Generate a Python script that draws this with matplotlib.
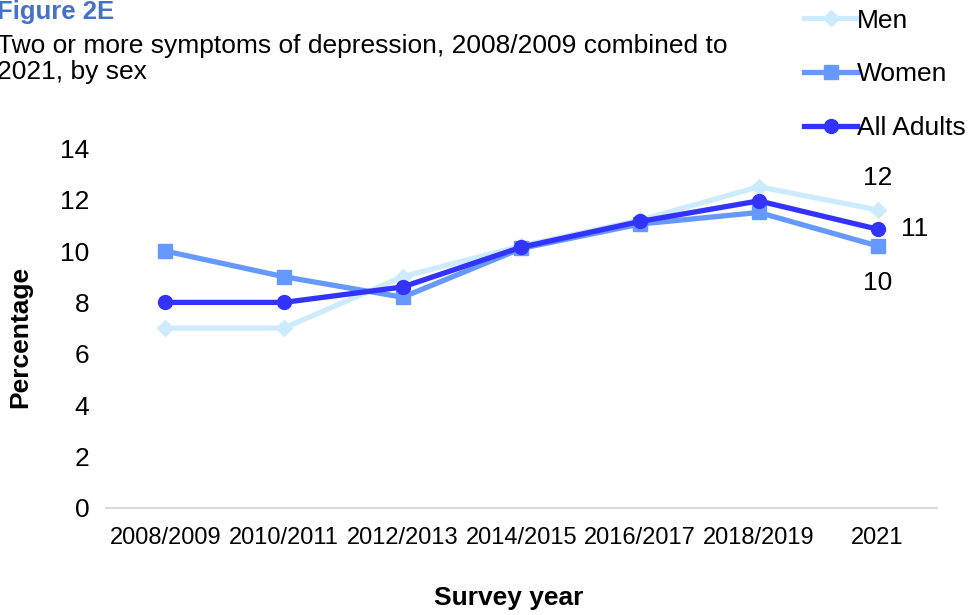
import matplotlib.pyplot as plt

plt.rcParams["font.family"] = ["Liberation Sans", "DejaVu Sans"]

years = ["2008/2009", "2010/2011", "2012/2013", "2014/2015",
         "2016/2017", "2018/2019", "2021"]
men = [7.0, 7.0, 9.0, 10.2, 11.2, 12.5, 11.6]
women = [10.0, 9.0, 8.2, 10.1, 11.05, 11.5, 10.2]
all_adults = [8.0, 8.0, 8.6, 10.15, 11.15, 11.95, 10.85]

fig = plt.figure(figsize=(9.8, 6.15), dpi=100)
ax = fig.add_axes([0.108, 0.174, 0.848, 0.585])

x = range(len(years))
ax.plot(x, men, color="#CCEBFF", lw=3.8, marker="D", ms=8, label="Men")
ax.plot(x, women, color="#6699FF", lw=3.8, marker="s", ms=10, label="Women")
ax.plot(x, all_adults, color="#3333FF", lw=3.8, marker="o", ms=10,
        label="All Adults")

# rounded values at the last survey year
ax.annotate(f"{men[-1]:.0f}", (6, men[-1]), xytext=(0, 14),
            textcoords="offset points", ha="center", va="bottom", fontsize=19)
ax.annotate(f"{all_adults[-1]:.0f}", (6, all_adults[-1]), xytext=(17, 0),
            textcoords="offset points", ha="left", va="center", fontsize=19)
ax.annotate(f"{women[-1]:.0f}", (6, women[-1]), xytext=(0, -18),
            textcoords="offset points", ha="center", va="top", fontsize=19)

ax.set_xlim(-0.5, len(years) - 0.5)
ax.set_ylim(0, 14)
ax.set_yticks(range(0, 15, 2))
ax.set_xticks(list(x))
ax.set_xticklabels(years, fontsize=17)
ax.tick_params(axis="y", labelsize=19, length=0, pad=12)
ax.tick_params(axis="x", length=0, pad=14)
for s in ["top", "right", "left"]:
    ax.spines[s].set_visible(False)
ax.spines["bottom"].set_color("#D9D9D9")
ax.spines["bottom"].set_linewidth(1.5)

fig.text(0.021, 0.452, "Percentage", rotation=90, ha="center", va="center",
         fontsize=19, fontweight="bold")
fig.text(0.519, 0.027, "Survey year", ha="center", va="center",
         fontsize=19, fontweight="bold")

fig.text(-0.003, 0.981, "Figure 2E", color="#4472C4", fontsize=18.5,
         fontweight="bold", ha="left", va="center")
fig.text(-0.003, 0.904, "Two or more symptoms of depression, 2008/2009 combined to\n2021, by sex",
         fontsize=19, ha="left", va="center", linespacing=1.1)

fig.legend(loc="upper left", bbox_to_anchor=(0.810, 1.003), frameon=False,
           fontsize=19, handlelength=2.0, handletextpad=0.0,
           labelspacing=1.12, borderaxespad=0)

fig.savefig("out.png", dpi=100)
